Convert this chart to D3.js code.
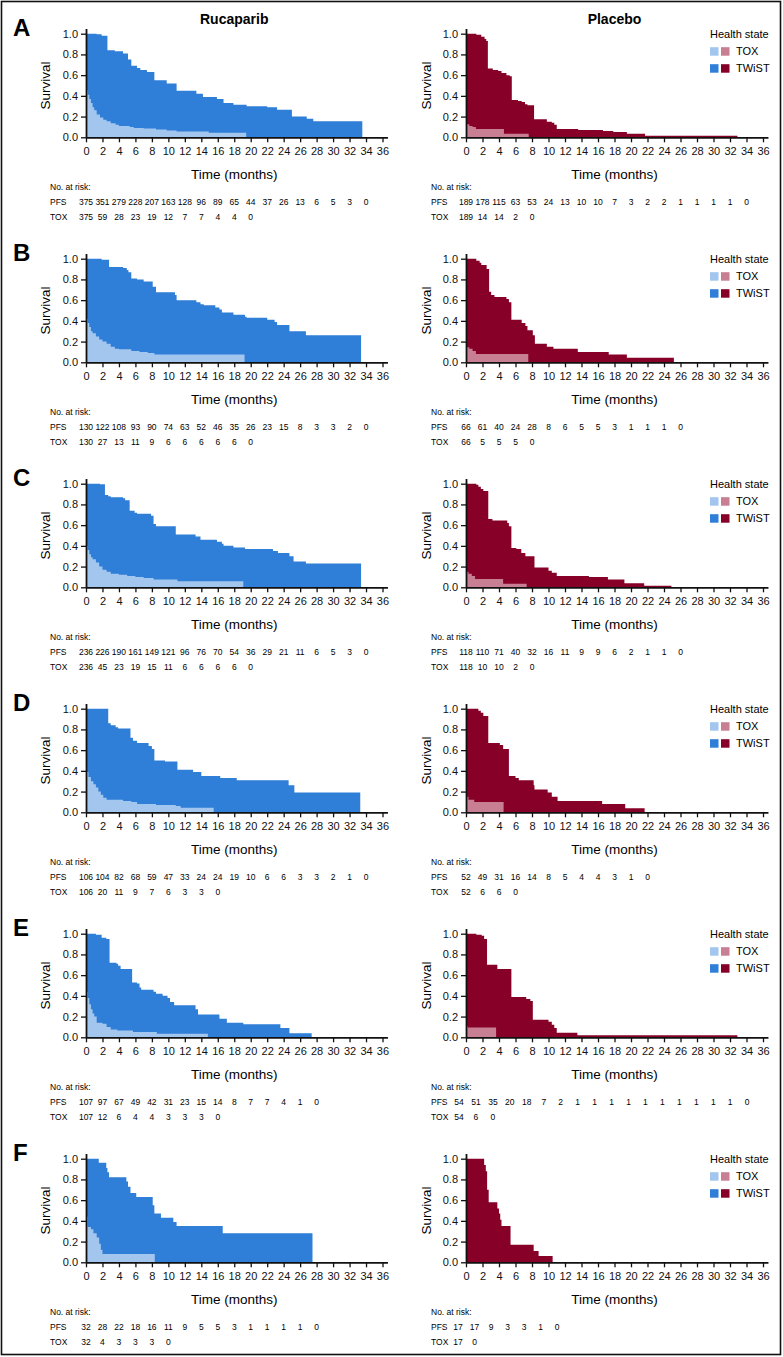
<!DOCTYPE html>
<html><head><meta charset="utf-8">
<script src="https://cdn.jsdelivr.net/npm/d3@7"></script>
<style>body{margin:0;background:#fff} svg{display:block} text{font-family:"Liberation Sans",Arial,Helvetica,sans-serif}</style>
</head><body><svg id="c" width="783" height="1357"></svg>
<script>
// ---------- labels / ticks ----------
const monthTicks = d3.range(0, 37, 2);
const survTicks = [0, 0.2, 0.4, 0.6, 0.8, 1.0];
const panelLetters = ["A", "B", "C", "D", "E", "F"];
const armNames = ["Rucaparib", "Placebo"];
const legendTitle = "Health state";
const legendItems = ["TOX", "TWiST"];
const rowLabels = ["PFS", "TOX"];

// ---------- curves: [month, survival] step points (last point = end of curve) ----------
const pfsA_ruc = [[0,1.0],[1.3,0.995],[1.9,0.98],[2.6,0.84],[3.5,0.83],[4.5,0.81],[5.1,0.75],[5.5,0.69],[6.2,0.67],[6.6,0.65],[7.4,0.63],[8.3,0.55],[9.8,0.52],[11.0,0.45],[13.4,0.42],[14.2,0.39],[15.9,0.37],[16.7,0.33],[17.9,0.315],[19.5,0.30],[22.0,0.29],[23.2,0.265],[25.0,0.20],[26.8,0.18],[27.6,0.155],[33.55,0.155]];
const toxA_ruc = [[0,0.455],[0.2,0.41],[0.4,0.37],[0.6,0.33],[0.8,0.29],[1.0,0.26],[1.3,0.22],[1.7,0.19],[2.1,0.17],[2.5,0.155],[3.0,0.135],[3.6,0.12],[4.0,0.11],[5.3,0.10],[5.8,0.09],[7.0,0.085],[8.5,0.075],[9.8,0.065],[11.0,0.055],[14.9,0.045],[19.45,0.045]];
const pfsA_pla = [[0,1.0],[1.25,0.99],[1.85,0.97],[2.25,0.95],[2.45,0.93],[2.65,0.665],[3.25,0.65],[3.9,0.64],[4.3,0.62],[4.9,0.60],[5.3,0.59],[5.55,0.36],[6.3,0.35],[6.75,0.34],[7.15,0.32],[7.45,0.31],[8.25,0.175],[9.8,0.15],[10.4,0.14],[10.7,0.12],[11.0,0.08],[13.6,0.07],[16.6,0.06],[17.85,0.05],[19.5,0.035],[21.7,0.015],[32.9,0.015]];
const toxA_pla = [[0,0.125],[0.4,0.11],[0.8,0.10],[1.2,0.08],[4.6,0.035],[7.6,0.035]];

const pfsB_ruc = [[0,1.0],[1.9,0.99],[2.8,0.92],[4.5,0.91],[4.95,0.89],[5.15,0.87],[5.5,0.81],[6.2,0.80],[7.0,0.78],[8.1,0.73],[8.5,0.676],[10.8,0.65],[11.0,0.60],[13.4,0.58],[13.9,0.56],[14.3,0.55],[15.7,0.53],[16.2,0.51],[16.5,0.48],[17.9,0.46],[19.3,0.44],[19.5,0.43],[22.0,0.41],[22.9,0.39],[23.2,0.36],[24.7,0.30],[26.7,0.26],[33.4,0.26]];
const toxB_ruc = [[0,0.42],[0.2,0.38],[0.4,0.34],[0.6,0.30],[0.8,0.28],[1.2,0.25],[1.6,0.22],[2.0,0.20],[2.5,0.18],[3.0,0.15],[3.5,0.13],[4.0,0.125],[5.5,0.11],[6.5,0.10],[7.5,0.09],[8.3,0.075],[19.25,0.075]];
const pfsB_pla = [[0,1.0],[1.25,0.98],[1.65,0.96],[1.85,0.94],[2.5,0.90],[2.8,0.68],[3.05,0.65],[3.45,0.63],[4.9,0.61],[5.2,0.58],[5.5,0.41],[6.75,0.38],[7.2,0.35],[7.45,0.31],[8.1,0.26],[8.35,0.18],[9.8,0.15],[10.6,0.13],[13.55,0.10],[17.3,0.075],[19.5,0.045],[25.2,0.045]];
const toxB_pla = [[0,0.145],[0.4,0.13],[0.8,0.11],[1.2,0.08],[7.55,0.08]];

const pfsC_ruc = [[0,1.0],[1.7,0.995],[2.3,0.89],[2.7,0.88],[3.0,0.87],[4.5,0.86],[4.75,0.84],[5.3,0.74],[5.9,0.72],[6.2,0.71],[7.9,0.69],[8.2,0.61],[8.5,0.59],[10.9,0.51],[13.3,0.49],[13.9,0.46],[15.9,0.44],[16.5,0.42],[16.7,0.40],[17.9,0.385],[19.3,0.37],[22.7,0.35],[23.3,0.33],[24.7,0.30],[25.2,0.25],[26.7,0.23],[33.4,0.23]];
const toxC_ruc = [[0,0.40],[0.2,0.36],[0.4,0.32],[0.6,0.29],[0.8,0.27],[1.2,0.24],[1.6,0.20],[2.0,0.17],[2.5,0.15],[3.0,0.13],[4.0,0.12],[5.0,0.11],[6.0,0.10],[7.0,0.09],[8.2,0.075],[11.1,0.058],[19.1,0.058]];
const pfsC_pla = [[0,1.0],[1.25,0.99],[1.5,0.97],[1.8,0.95],[2.1,0.93],[2.7,0.66],[3.2,0.645],[5.0,0.62],[5.2,0.59],[5.5,0.38],[6.1,0.37],[6.7,0.33],[7.2,0.30],[8.3,0.19],[10.0,0.16],[10.4,0.14],[11.0,0.11],[14.9,0.10],[17.2,0.075],[19.2,0.04],[21.6,0.015],[24.9,0.015]];
const toxC_pla = [[0,0.15],[0.3,0.13],[0.7,0.11],[1.1,0.08],[4.5,0.035],[7.35,0.035]];

const pfsD_ruc = [[0,1.0],[2.7,0.86],[3.0,0.84],[3.6,0.82],[3.9,0.81],[5.4,0.72],[5.7,0.69],[6.2,0.67],[7.6,0.64],[8.0,0.61],[8.3,0.50],[9.6,0.49],[11.1,0.41],[13.0,0.39],[14.0,0.35],[16.3,0.33],[18.3,0.31],[24.6,0.26],[25.3,0.19],[33.3,0.19]];
const toxD_ruc = [[0,0.39],[0.3,0.34],[0.6,0.30],[0.9,0.27],[1.2,0.24],[1.5,0.20],[1.8,0.17],[2.1,0.14],[2.5,0.12],[4.5,0.11],[5.5,0.10],[6.2,0.08],[8.5,0.07],[10.9,0.06],[11.5,0.045],[15.5,0.045]];
const pfsD_pla = [[0,1.0],[1.5,0.98],[1.8,0.96],[2.1,0.93],[2.7,0.67],[4.1,0.65],[4.5,0.61],[5.2,0.35],[6.0,0.33],[6.4,0.31],[8.2,0.26],[8.3,0.22],[9.9,0.19],[10.4,0.15],[11.1,0.11],[16.5,0.08],[19.3,0.04],[21.65,0.04]];
const toxD_pla = [[0,0.15],[0.3,0.12],[1.0,0.10],[4.56,0.10]];

const pfsE_ruc = [[0,1.0],[1.2,0.99],[1.9,0.96],[2.46,0.95],[2.86,0.72],[3.7,0.71],[3.9,0.69],[4.2,0.66],[5.6,0.53],[6.2,0.52],[6.5,0.48],[6.7,0.46],[8.2,0.44],[8.5,0.42],[9.3,0.40],[9.9,0.38],[10.2,0.34],[10.7,0.31],[13.3,0.27],[13.6,0.22],[16.2,0.18],[17.1,0.14],[19.1,0.125],[23.6,0.09],[24.7,0.04],[27.4,0.04]];
const toxE_ruc = [[0,0.44],[0.2,0.38],[0.4,0.32],[0.6,0.27],[0.8,0.23],[1.0,0.20],[1.3,0.14],[2.0,0.13],[2.5,0.10],[3.0,0.075],[3.8,0.065],[5.7,0.05],[8.6,0.035],[14.8,0.035]];
const pfsE_pla = [[0,1.0],[1.25,0.99],[1.9,0.98],[2.2,0.95],[2.55,0.70],[3.8,0.66],[5.5,0.39],[7.3,0.37],[7.8,0.35],[8.1,0.17],[10.0,0.15],[10.4,0.12],[10.7,0.09],[11.0,0.045],[13.5,0.02],[32.9,0.02]];
const toxE_pla = [[0,0.11],[0.2,0.095],[3.65,0.095]];

const pfsF_ruc = [[0,1.0],[1.55,0.96],[2.46,0.91],[2.6,0.87],[2.8,0.82],[4.9,0.78],[5.1,0.73],[5.4,0.67],[6.1,0.63],[8.1,0.55],[8.3,0.47],[9.1,0.43],[10.6,0.39],[11.0,0.35],[16.6,0.28],[27.5,0.28]];
const toxF_ruc = [[0,0.44],[0.2,0.34],[0.6,0.32],[0.9,0.28],[1.3,0.24],[1.6,0.18],[1.8,0.12],[2.0,0.08],[8.35,0.08]];
const pfsF_pla = [[0,1.0],[2.2,0.94],[2.4,0.88],[2.56,0.70],[2.75,0.58],[3.8,0.52],[4.0,0.47],[4.15,0.41],[4.3,0.35],[5.4,0.17],[8.2,0.11],[8.8,0.06],[10.5,0.06]];
const toxF_pla = [];

// ---------- numbers at risk (every 2 months) ----------
const riskPfsA_ruc = [375,351,279,228,207,163,128,96,89,65,44,37,26,13,6,5,3,0];
const riskToxA_ruc = [375,59,28,23,19,12,7,7,4,4,0];
const riskPfsA_pla = [189,178,115,63,53,24,13,10,10,7,3,2,2,1,1,1,1,0];
const riskToxA_pla = [189,14,14,2,0];
const riskPfsB_ruc = [130,122,108,93,90,74,63,52,46,35,26,23,15,8,3,3,2,0];
const riskToxB_ruc = [130,27,13,11,9,6,6,6,6,6,0];
const riskPfsB_pla = [66,61,40,24,28,8,6,5,5,3,1,1,1,0];
const riskToxB_pla = [66,5,5,5,0];
const riskPfsC_ruc = [236,226,190,161,149,121,96,76,70,54,36,29,21,11,6,5,3,0];
const riskToxC_ruc = [236,45,23,19,15,11,6,6,6,6,0];
const riskPfsC_pla = [118,110,71,40,32,16,11,9,9,6,2,1,1,0];
const riskToxC_pla = [118,10,10,2,0];
const riskPfsD_ruc = [106,104,82,68,59,47,33,24,24,19,10,6,6,3,3,2,1,0];
const riskToxD_ruc = [106,20,11,9,7,6,3,3,0];
const riskPfsD_pla = [52,49,31,16,14,8,5,4,4,3,1,0];
const riskToxD_pla = [52,6,6,0];
const riskPfsE_ruc = [107,97,67,49,42,31,23,15,14,8,7,7,4,1,0];
const riskToxE_ruc = [107,12,6,4,4,3,3,3,0];
const riskPfsE_pla = [54,51,35,20,18,7,2,1,1,1,1,1,1,1,1,1,1,0];
const riskToxE_pla = [54,6,0];
const riskPfsF_ruc = [32,28,22,18,16,11,9,5,5,3,1,1,1,1,0];
const riskToxF_ruc = [32,4,3,3,3,0];
const riskPfsF_pla = [17,17,9,3,3,1,0];
const riskToxF_pla = [17,0];

// ---------- assemble ----------
const rows = [
  [[pfsA_ruc,toxA_ruc,riskPfsA_ruc,riskToxA_ruc],[pfsA_pla,toxA_pla,riskPfsA_pla,riskToxA_pla]],
  [[pfsB_ruc,toxB_ruc,riskPfsB_ruc,riskToxB_ruc],[pfsB_pla,toxB_pla,riskPfsB_pla,riskToxB_pla]],
  [[pfsC_ruc,toxC_ruc,riskPfsC_ruc,riskToxC_ruc],[pfsC_pla,toxC_pla,riskPfsC_pla,riskToxC_pla]],
  [[pfsD_ruc,toxD_ruc,riskPfsD_ruc,riskToxD_ruc],[pfsD_pla,toxD_pla,riskPfsD_pla,riskToxD_pla]],
  [[pfsE_ruc,toxE_ruc,riskPfsE_ruc,riskToxE_ruc],[pfsE_pla,toxE_pla,riskPfsE_pla,riskToxE_pla]],
  [[pfsF_ruc,toxF_ruc,riskPfsF_ruc,riskToxF_ruc],[pfsF_pla,toxF_pla,riskPfsF_pla,riskToxF_pla]]
];

const colors = [
  {dark: "#2f7ed7", light: "#a3c6ef"},
  {dark: "#870028", light: "#c87e93"}
];

// table layout quirks (pixel position of first number and spacing) for panels E & F placebo
const tableOverride = {"4-1": {start: 459, step: 16.95}, "5-1": {start: 458, step: 16.5}};

const svg = d3.select("#c");
svg.append("rect").attr("x",0).attr("y",0).attr("width",783).attr("height",1357).attr("fill","#fff");
svg.append("rect").attr("x",1.5).attr("y",1.5).attr("width",779).attr("height",1353)
  .attr("fill","none").attr("stroke","#111").attr("stroke-width",1.6);

const colLayout = [
  {x0: 86, pxm: 8.236, survX: 46, tableX: 50},
  {x0: 466, pxm: 8.25, survX: 427, tableX: 431}
];
const plotH = 103.6;

rows.forEach((row, ri) => {
  const yBase = 137.3 + ri * 225;
  const y = d3.scaleLinear().domain([0, 1.05]).range([yBase, yBase - 1.05 * plotH]);

  svg.append("text").attr("x", 13).attr("y", y(1) + 2.5)
    .attr("font-size", 24).attr("font-weight", "bold").text(panelLetters[ri]);

  row.forEach((arm, ci) => {
    const L = colLayout[ci];
    const x = d3.scaleLinear().domain([0, 36.6]).range([L.x0, L.x0 + 36.6 * L.pxm]);
    const g = svg.append("g");
    const [pfs, tox, rPfs, rTox] = arm;

    const area = d3.area().curve(d3.curveStepAfter)
      .x(d => x(d[0])).y0(y(0)).y1(d => y(d[1]));

    g.append("path").datum(pfs).attr("d", area).attr("fill", colors[ci].dark);
    if (tox.length) g.append("path").datum(tox).attr("d", area).attr("fill", colors[ci].light);

    const xa = g.append("g").attr("transform", `translate(0,${y(0)})`)
      .call(d3.axisBottom(x).tickValues(monthTicks).tickSize(5).tickSizeOuter(0).tickPadding(5));
    xa.selectAll("text").attr("font-size", 11).attr("fill", "#111").style("font-family", "'Liberation Sans',Arial,sans-serif");
    const ya = g.append("g").attr("transform", `translate(${L.x0},0)`)
      .call(d3.axisLeft(y).tickValues(survTicks).tickFormat(d3.format(".1f")).tickSize(5).tickSizeOuter(0).tickPadding(3));
    ya.selectAll("text").attr("font-size", 11).attr("fill", "#111").style("font-family", "'Liberation Sans',Arial,sans-serif");
    [xa, ya].forEach(a => {
      a.select(".domain").attr("stroke", "#111").attr("stroke-width", 1.8);
      a.selectAll(".tick line").attr("stroke", "#111").attr("stroke-width", 1.3);
    });

    g.append("text").attr("transform", `translate(${L.survX},${y(0.5)}) rotate(-90)`)
      .attr("text-anchor", "middle").attr("dominant-baseline", "middle").attr("font-size", 13.5).text("Survival");
    g.append("text").attr("x", x(18)).attr("y", yBase + 42).attr("text-anchor", "middle")
      .attr("font-size", 13.5).text("Time (months)");

    if (ri === 0) {
      g.append("text").attr("x", x(18)).attr("y", 24).attr("text-anchor", "middle")
        .attr("font-size", 14).attr("font-weight", "bold").text(armNames[ci]);
    }

    // at-risk table
    const ov = tableOverride[ri + "-" + ci];
    const posX = i => ov ? ov.start + i * ov.step : x(monthTicks[i]);
    const t1 = yBase + 53, t2 = yBase + 68, t3 = yBase + 83;
    g.append("text").attr("x", L.tableX).attr("y", t1).attr("font-size", 8.5).text("No. at risk:");
    [[rPfs, t2], [rTox, t3]].forEach(([vals, ty], k) => {
      g.append("text").attr("x", L.tableX).attr("y", ty).attr("font-size", 8.5).text(rowLabels[k]);
      g.selectAll(null).data(vals).enter().append("text")
        .attr("x", (d, i) => posX(i)).attr("y", ty)
        .attr("text-anchor", "middle").attr("font-size", 8.5).text(d => d);
    });

    if (ci === 1) {
      const lx = 710, ly = y(1);
      g.append("text").attr("x", lx).attr("y", ly + 4).attr("font-size", 11).text(legendTitle);
      legendItems.forEach((name, k) => {
        const sy = ly + 13.5 + k * 17;
        const shades = k === 0 ? [colors[0].light, colors[1].light] : [colors[0].dark, colors[1].dark];
        shades.forEach((c, j) => {
          g.append("rect").attr("x", lx + j * 11).attr("y", sy).attr("width", 8.5).attr("height", 8.5).attr("fill", c);
        });
        g.append("text").attr("x", lx + 26).attr("y", sy + 8).attr("font-size", 11).text(name);
      });
    }
  });
});
</script></body></html>
